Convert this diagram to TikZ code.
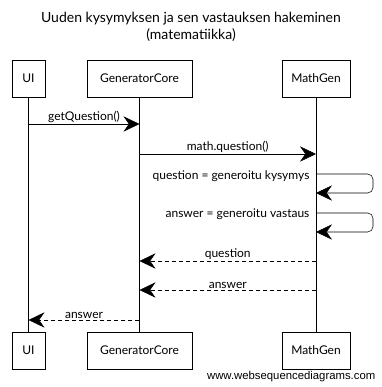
\documentclass[tikz,border=0pt]{standalone}
\usepackage{fontspec}
\setmainfont{Lato}
\newfontfamily\wsdfont{Liberation Sans}
\usetikzlibrary{arrows.meta}
\usetikzlibrary{positioning}

\tikzset{
  actor/.style={draw, minimum height=27.75pt, inner sep=0pt, font=\small},
  msg/.style={->, thin},
  ret/.style={->, thin, dash pattern=on 3pt off 2.25pt},
  lbl/.style={font=\small, inner sep=1pt}
}

\begin{document}
\begin{tikzpicture}[x=0.75pt, y=-0.75pt,
    >={Stealth[length=12pt, width=11.5pt, inset=4pt]}]
    \path[use as bounding box] (0,0) rectangle (382,387);

% title
\node[font=\fontsize{10.5}{13}\selectfont, align=center] (title) at (191,27)
  {Uuden kysymyksen ja sen vastauksen hakeminen\\(matematiikka)};

% participants, top and bottom
\foreach \n / \x / \w / \t in {ui/28.5/24.75pt/UI, gc/139.5/78.75pt/GeneratorCore, mg/316/51pt/MathGen} {
  \node[actor, minimum width=\w] (\n T) at (\x,78.5) {\t};
  \node[actor, minimum width=\w] (\n B) at (\x,350.5) {\t};
  \draw (\n T) -- (\n B);
}

% points on the lifelines
\coordinate (ui1) at (uiT |- 0,124);
\coordinate (gc1) at (gcT |- 0,124);
\coordinate (gc2) at (gcT |- 0,154);
\coordinate (mg2) at (mgT |- 0,154);
\coordinate (mg3) at (mgT |- 0,174);
\coordinate (mg4) at (mgT |- 0,193);
\coordinate (mg5) at (mgT |- 0,213);
\coordinate (mg6) at (mgT |- 0,232);
\coordinate (mg7) at (mgT |- 0,261);
\coordinate (gc7) at (gcT |- 0,261);
\coordinate (mg8) at (mgT |- 0,290);
\coordinate (gc8) at (gcT |- 0,290);
\coordinate (gc9) at (gcT |- 0,320);
\coordinate (ui9) at (uiT |- 0,320);

% calls
\draw[msg] (ui1) -- node[lbl, above] {getQuestion()} (gc1);
\draw[msg] (gc2) -- node[lbl, above] {math.question()} (mg2);

% self calls
\draw[msg, rounded corners=4pt] (mg3) -- ++(57,0) |- (mg4);
\node[lbl, anchor=east] (selfq) at (311,176) {question = generoitu kysymys};
\draw[msg, rounded corners=4pt] (mg5) -- ++(57,0) |- (mg6);
\node[lbl, anchor=east] (selfa) at (311,214) {answer = generoitu vastaus};

% replies
\draw[ret] (mg7) -- node[lbl, above] {question} (gc7);
\draw[ret] (mg8) -- node[lbl, above] {answer} (gc8);
\draw[ret] (gc9) -- node[lbl, above] {answer} (ui9);

\node[font=\wsdfont\fontsize{8.5}{10}\selectfont, anchor=east] (wsd) at (380,377) {www.websequencediagrams.com};
\end{tikzpicture}
\end{document}
